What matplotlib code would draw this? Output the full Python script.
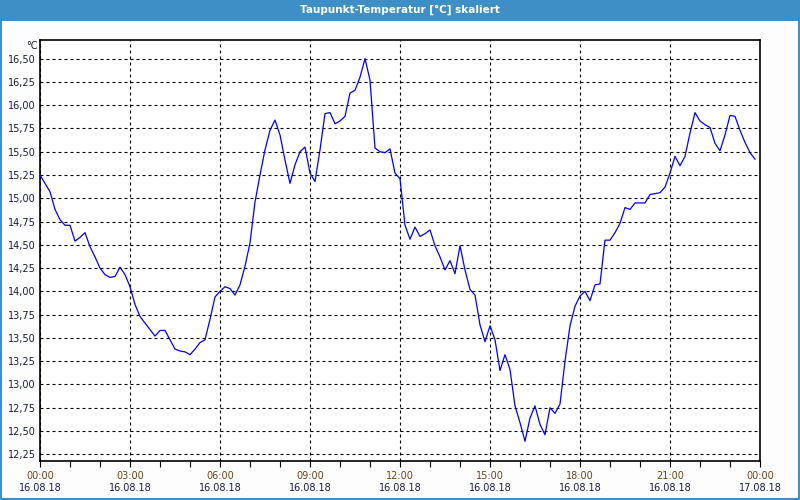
import matplotlib
matplotlib.use("Agg")
import matplotlib.pyplot as plt
import matplotlib.transforms as mtransforms
from matplotlib.patches import Rectangle

# Taupunkt-Werte alle 10 Minuten, 16.08.18 00:00 - 23:50
werte_0_6 = [15.25, 15.16, 15.07, 14.88, 14.77, 14.71, 14.71, 14.54, 14.58, 14.63,
             14.48, 14.37, 14.25, 14.18, 14.15, 14.16, 14.26, 14.18, 14.05, 13.86,
             13.73, 13.66, 13.59, 13.52, 13.58, 13.58, 13.48, 13.38, 13.36, 13.35,
             13.32, 13.38, 13.45, 13.48, 13.70, 13.94]
werte_6_12 = [14.00, 14.05, 14.03, 13.96, 14.07, 14.27, 14.52, 14.96, 15.25, 15.52,
              15.73, 15.84, 15.68, 15.41, 15.16, 15.36, 15.50, 15.55, 15.27, 15.18,
              15.52, 15.91, 15.92, 15.80, 15.83, 15.88, 16.13, 16.16, 16.30, 16.50,
              16.27, 15.54, 15.50, 15.49, 15.53, 15.27]
werte_12_18 = [15.21, 14.71, 14.56, 14.69, 14.59, 14.62, 14.66, 14.49, 14.37, 14.23,
               14.33, 14.19, 14.49, 14.23, 14.02, 13.96, 13.64, 13.46, 13.63, 13.48,
               13.15, 13.32, 13.16, 12.77, 12.59, 12.39, 12.64, 12.77, 12.57, 12.46,
               12.75, 12.69, 12.79, 13.25, 13.63, 13.84]
werte_18_24 = [13.95, 14.00, 13.90, 14.07, 14.08, 14.55, 14.55, 14.63, 14.73, 14.90,
               14.88, 14.95, 14.95, 14.95, 15.04, 15.05, 15.06, 15.12, 15.27, 15.45,
               15.35, 15.45, 15.70, 15.92, 15.83, 15.79, 15.76, 15.59, 15.51, 15.68,
               15.89, 15.88, 15.73, 15.60, 15.49, 15.42]

werte = werte_0_6 + werte_6_12 + werte_12_18 + werte_18_24
stunden = [i / 6 for i in range(len(werte))]

tick_stunden = [0, 3, 6, 9, 12, 15, 18, 21, 24]
tick_zeiten = ['00:00', '03:00', '06:00', '09:00', '12:00', '15:00', '18:00', '21:00', '00:00']
tick_daten = ['16.08.18'] * 8 + ['17.08.18']
y_ticks = [12.25 + 0.25 * i for i in range(18)]

plt.rcParams['font.family'] = ['DejaVu Sans']

fig = plt.figure(figsize=(8, 5), dpi=100, facecolor='#fcfdfc')
ax = fig.add_axes([0.05, 0.078, 0.90, 0.842])

# Titelleiste und Rahmen
fig.patches.append(Rectangle((0, 0.958), 1, 0.042, transform=fig.transFigure,
                             facecolor='#3d8fc6', edgecolor='none', zorder=0))
fig.patches.append(Rectangle((0.001, 0.002), 0.998, 0.996, transform=fig.transFigure,
                             facecolor='none', edgecolor='#3d8fc6', linewidth=1.5, zorder=1))
fig.text(0.5, 0.981, 'Taupunkt-Temperatur [°C] skaliert', color='white',
         fontsize=7.5, fontweight='bold', ha='center', va='center')

ax.plot(stunden, werte, color='#0000ff', linewidth=0.9, zorder=3)

ax.set_xlim(0, 24)
ax.set_ylim(12.178, 16.70)

ax.set_xticks(tick_stunden)
ax.set_xticks(range(25), minor=True)
ax.set_xticklabels(tick_zeiten, color='#6b4418', fontsize=7)
ax.tick_params(axis='x', which='both', direction='out', length=4, width=0.8, pad=3)

ax.set_yticks(y_ticks)
ax.set_yticklabels([f'{v:.2f}'.replace('.', ',') for v in y_ticks], color='#1a1a40', fontsize=7)
ax.tick_params(axis='y', length=0, pad=3)

trans = mtransforms.blended_transform_factory(ax.transData, ax.transAxes)
for x, d in zip(tick_stunden, tick_daten):
    ax.text(x, -0.065, d, transform=trans, ha='center', va='center',
            fontsize=7, color='#1a1a40')

ax.text(-0.003, 0.998, '°C', transform=ax.transAxes, ha='right', va='top',
        fontsize=7, color='#1a1a40')

ax.grid(True, which='major', color='black', linestyle=(0, (2.7, 2.7)), linewidth=0.8)
ax.set_axisbelow(True)
for s in ax.spines.values():
    s.set_color('black')
    s.set_linewidth(1.2)

fig.savefig('out.png', dpi=100, facecolor=fig.get_facecolor())
